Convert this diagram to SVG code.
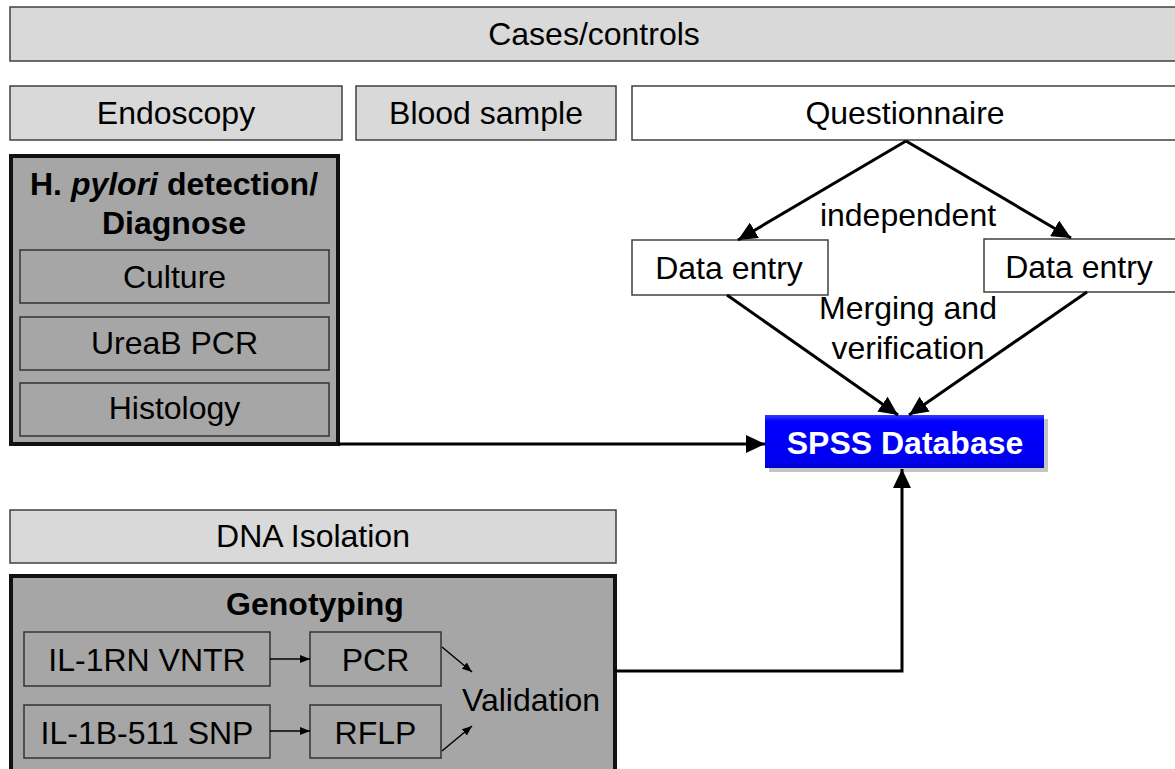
<svg xmlns="http://www.w3.org/2000/svg" width="1175" height="769" viewBox="0 0 1175 769">
<style>
  text { font-family: "Liberation Sans", Arial, sans-serif; font-size: 32px; fill: #000; text-anchor: middle; }
  .b { font-weight: bold; }
  .light { fill: #d9d9d9; stroke: #404040; stroke-width: 1.5; }
  .white { fill: #ffffff; stroke: #404040; stroke-width: 1.5; }
  .dark { fill: #a6a6a6; stroke: #111; stroke-width: 4; }
  .inner { fill: #a6a6a6; stroke: #333; stroke-width: 1.5; }
  .conn { fill: none; stroke: #000; stroke-width: 3; }
  .thin { fill: none; stroke: #000; stroke-width: 1.5; }
</style>
<defs>
  <marker id="ah" markerUnits="userSpaceOnUse" markerWidth="19" markerHeight="18" refX="19" refY="9" orient="auto">
    <path d="M0,0 L19,9 L0,18 z" fill="#000"/>
  </marker>
  <marker id="sah" markerUnits="userSpaceOnUse" markerWidth="10" markerHeight="8" refX="10" refY="4" orient="auto">
    <path d="M0,0 L10,4 L0,8 z" fill="#000"/>
  </marker>
  <linearGradient id="blue" x1="0" y1="0" x2="0" y2="1">
    <stop offset="0" stop-color="#3a3aff"/>
    <stop offset="0.12" stop-color="#0000ff"/>
    <stop offset="0.88" stop-color="#0000f0"/>
    <stop offset="1" stop-color="#0000c8"/>
  </linearGradient>
</defs>

<g id="cases">
  <rect class="light" x="10" y="7" width="1175" height="54"/>
  <text x="594" y="45">Cases/controls</text>
</g>
<g id="endoscopy">
  <rect class="light" x="10" y="86" width="332" height="54"/>
  <text x="176" y="124">Endoscopy</text>
</g>
<g id="blood">
  <rect class="light" x="356" y="86" width="260" height="54"/>
  <text x="486" y="124">Blood sample</text>
</g>
<g id="questionnaire">
  <rect class="white" x="632" y="86" width="553" height="54"/>
  <text x="905" y="124">Questionnaire</text>
</g>

<g id="hpylori">
  <rect class="dark" x="11" y="156" width="327" height="288"/>
  <text class="b" x="174" y="195">H. <tspan font-style="italic">pylori</tspan> detection/</text>
  <text class="b" x="174" y="234">Diagnose</text>
</g>
<g id="culture">
  <rect class="inner" x="20" y="250" width="309" height="53"/>
  <text x="174.5" y="288">Culture</text>
</g>
<g id="ureab">
  <rect class="inner" x="20" y="317" width="309" height="53"/>
  <text x="174.5" y="354">UreaB PCR</text>
</g>
<g id="histology">
  <rect class="inner" x="20" y="383" width="309" height="53"/>
  <text x="174.5" y="419">Histology</text>
</g>

<g id="dataentry1">
  <rect class="white" x="632" y="240" width="196" height="55"/>
  <text x="729" y="279">Data entry</text>
</g>
<g id="dataentry2">
  <rect class="white" x="984" y="239" width="195" height="53"/>
  <text x="1079" y="278">Data entry</text>
</g>

<g id="spss">
  <rect x="769" y="419" width="279" height="53" fill="#8a8a8a" opacity="0.5"/>
  <rect x="765" y="415" width="279" height="53" fill="url(#blue)"/>
  <text class="b" x="905" y="454" style="fill:#fff">SPSS Database</text>
</g>

<g id="dna">
  <rect class="light" x="10" y="510" width="606" height="53"/>
  <text x="313" y="547">DNA Isolation</text>
</g>
<g id="genotyping">
  <rect class="dark" x="11" y="576" width="604" height="200"/>
  <text class="b" x="315" y="615">Genotyping</text>
  <text x="531" y="711">Validation</text>
</g>
<g id="il1rn">
  <rect class="inner" x="24" y="632" width="246" height="54"/>
  <text x="147" y="671">IL-1RN VNTR</text>
</g>
<g id="pcr">
  <rect class="inner" x="310" y="632" width="131" height="54"/>
  <text x="375.5" y="671">PCR</text>
</g>
<g id="il1b">
  <rect class="inner" x="24" y="705" width="246" height="53"/>
  <text x="147" y="744">IL-1B-511 SNP</text>
</g>
<g id="rflp">
  <rect class="inner" x="310" y="705" width="131" height="53"/>
  <text x="375.5" y="744">RFLP</text>
</g>

<g id="labels">
  <text x="908" y="226">independent</text>
  <text x="908" y="319">Merging and</text>
  <text x="908" y="359">verification</text>
</g>

<g id="connectors">
  <line class="conn" x1="906" y1="141" x2="738" y2="240" marker-end="url(#ah)"/>
  <line class="conn" x1="906" y1="141" x2="1071" y2="238" marker-end="url(#ah)"/>
  <line class="conn" x1="727" y1="295" x2="898" y2="415" marker-end="url(#ah)"/>
  <line class="conn" x1="1087" y1="292" x2="909" y2="415" marker-end="url(#ah)"/>
  <line class="conn" x1="338" y1="444" x2="765" y2="444" marker-end="url(#ah)"/>
  <polyline class="conn" points="615,671 902,671 902,469" marker-end="url(#ah)"/>
  <line class="thin" x1="270" y1="659" x2="310" y2="659" marker-end="url(#sah)"/>
  <line class="thin" x1="270" y1="731" x2="310" y2="731" marker-end="url(#sah)"/>
  <line class="thin" x1="442" y1="647" x2="472" y2="672" marker-end="url(#sah)"/>
  <line class="thin" x1="442" y1="751" x2="472" y2="726" marker-end="url(#sah)"/>
</g>
</svg>
